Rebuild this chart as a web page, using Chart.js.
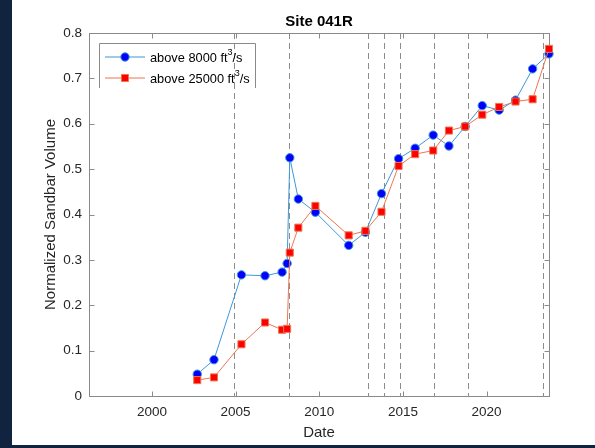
<!DOCTYPE html>
<html>
<head>
<meta charset="utf-8">
<script src="https://cdn.jsdelivr.net/npm/chart.js@4/dist/chart.umd.min.js"></script>
<style>
  html, body { margin: 0; padding: 0; background: #10233f; }
  #wrap { position: relative; width: 595px; height: 448px; }
  #paper { position: absolute; left: 12px; top: 0; width: 583px; height: 445px; background: #fff; }
  #chart { position: absolute; left: 0; top: 0; }
</style>
</head>
<body>
<div id="wrap">
  <div id="paper"></div>
  <canvas id="chart" width="595" height="448"></canvas>
</div>
<script>
// 調查日期（小數年）
const surveyDates = [2002.71, 2003.71, 2005.35, 2006.76, 2007.78, 2008.08, 2008.24, 2008.75,
    2009.77, 2011.76, 2012.76, 2013.72, 2014.74, 2015.73, 2016.81, 2017.75,
    2018.72, 2019.74, 2020.75, 2021.73, 2022.75, 2023.73];

// 正規化沙洲體積
const above8000 = [0.048, 0.080, 0.267, 0.265, 0.273, 0.292, 0.525, 0.434,
    0.405, 0.332, 0.361, 0.446, 0.523, 0.546, 0.575, 0.551,
    0.594, 0.640, 0.630, 0.652, 0.721, 0.754];
const above25000 = [0.035, 0.041, 0.114, 0.162, 0.146, 0.148, 0.316, 0.371,
    0.419, 0.354, 0.364, 0.406, 0.507, 0.533, 0.541, 0.585,
    0.594, 0.620, 0.637, 0.649, 0.654, 0.765];

// 高流量放水日期（虛線）
const floodDates = [2004.92, 2008.19, 2012.90, 2013.88, 2014.85, 2016.85, 2018.87, 2023.38];

// 座標軸刻度
const xTicks = [2000, 2005, 2010, 2015, 2020];
const yTicks = [0, 0.1, 0.2, 0.3, 0.4, 0.5, 0.6, 0.7, 0.8];
const xRange = [1996.24, 2023.73];

const FONT = "'Liberation Sans', Arial, Helvetica, sans-serif";
const TEXT = '#262626';
const AXIS = '#8a8a8a';

function toPoints(values) {
    return surveyDates.map((d, i) => ({ x: d, y: values[i] }));
}

// 虛線、框線與內側刻度（畫在資料下方），標題與圖例（畫在最上層）
const axesDecor = {
    id: 'axesDecor',
    beforeDatasetsDraw(chart) {
        const { ctx, chartArea: a, scales: { x, y } } = chart;
        ctx.save();
        ctx.strokeStyle = '#8c8c8c';
        ctx.lineWidth = 1;
        ctx.setLineDash([6, 4]);
        floodDates.forEach(d => {
            const px = Math.round(x.getPixelForValue(d)) + 0.5;
            ctx.beginPath();
            ctx.moveTo(px, a.top);
            ctx.lineTo(px, a.bottom);
            ctx.stroke();
        });
        ctx.setLineDash([]);

        const L = a.left + 0.5, R = a.right + 0.5, T = a.top + 0.5, B = a.bottom + 0.5;
        ctx.strokeStyle = AXIS;
        ctx.strokeRect(L, T, R - L, B - T);

        const tick = 5;
        ctx.beginPath();
        xTicks.forEach(v => {
            const px = Math.round(x.getPixelForValue(v)) + 0.5;
            ctx.moveTo(px, B); ctx.lineTo(px, B - tick);
            ctx.moveTo(px, T); ctx.lineTo(px, T + tick);
        });
        yTicks.forEach(v => {
            const py = Math.round(y.getPixelForValue(v)) + 0.5;
            ctx.moveTo(L, py); ctx.lineTo(L + tick, py);
            ctx.moveTo(R, py); ctx.lineTo(R - tick, py);
        });
        ctx.stroke();
        ctx.restore();
    },
    afterDraw(chart) {
        const { ctx, chartArea: a } = chart;
        ctx.save();

        // 標題與座標軸名稱
        const cx = (a.left + a.right) / 2;
        ctx.fillStyle = '#000';
        ctx.textAlign = 'center';
        ctx.textBaseline = 'middle';
        ctx.font = 'bold 15px ' + FONT;
        ctx.fillText('Site 041R', cx, 21.5);

        ctx.fillStyle = TEXT;
        ctx.font = '15px ' + FONT;
        ctx.fillText('Date', cx, 432.5);

        ctx.save();
        ctx.translate(51, (a.top + a.bottom) / 2);
        ctx.rotate(-Math.PI / 2);
        ctx.fillText('Normalized Sandbar Volume', 0, 0);
        ctx.restore();

        // 圖例
        const box = { l: 99.5, t: 43.5, r: 255.5, b: 88 };
        ctx.strokeStyle = AXIS;
        ctx.lineWidth = 1;
        ctx.beginPath();
        ctx.moveTo(box.l, box.b);
        ctx.lineTo(box.l, box.t);
        ctx.lineTo(box.r, box.t);
        ctx.lineTo(box.r, box.b);
        ctx.stroke();

        const rows = [57, 78];
        chart.data.datasets.forEach((ds, i) => {
            const ry = rows[i];
            ctx.strokeStyle = ds.borderColor;
            ctx.lineWidth = 1;
            ctx.beginPath();
            ctx.moveTo(105, ry);
            ctx.lineTo(145, ry);
            ctx.stroke();

            ctx.fillStyle = ds.pointBackgroundColor;
            ctx.strokeStyle = ds.pointBorderColor;
            ctx.beginPath();
            if (ds.pointStyle === 'rect') {
                const s = Math.SQRT1_2 * ds.pointRadius;
                ctx.rect(125 - s, ry - s, 2 * s, 2 * s);
            } else {
                ctx.arc(125, ry, ds.pointRadius, 0, Math.PI * 2);
            }
            ctx.fill();
            ctx.stroke();

            ctx.fillStyle = '#000';
            ctx.textAlign = 'left';
            ctx.textBaseline = 'middle';
            ctx.font = '12.8px ' + FONT;
            const main = ds.legendText;
            ctx.fillText(main, 150, ry + 1);
            let tx = 150 + ctx.measureText(main).width;
            ctx.font = '9px ' + FONT;
            ctx.fillText('3', tx, ry - 4);
            tx += ctx.measureText('3').width;
            ctx.font = '12.8px ' + FONT;
            ctx.fillText('/s', tx, ry + 1);
        });
        ctx.restore();
    }
};

const ctx = document.getElementById('chart').getContext('2d');
const chart = new Chart(ctx, {
    type: 'line',
    data: {
        datasets: [
            {
                label: 'above 8000 ft³/s',
                legendText: 'above 8000 ft',
                data: toPoints(above8000),
                borderColor: '#3f97d6',
                borderWidth: 1,
                pointStyle: 'circle',
                pointRadius: 4.2,
                pointBorderWidth: 1,
                pointBackgroundColor: '#0000ff',
                pointBorderColor: '#3f97d6',
                tension: 0,
                clip: false,
                order: 1
            },
            {
                label: 'above 25000 ft³/s',
                legendText: 'above 25000 ft',
                data: toPoints(above25000),
                borderColor: '#ec7650',
                borderWidth: 1,
                pointStyle: 'rect',
                pointRadius: 5,
                pointBorderWidth: 1,
                pointBackgroundColor: '#ff0000',
                pointBorderColor: '#ec7650',
                tension: 0,
                clip: false,
                order: 0
            }
        ]
    },
    options: {
        responsive: false,
        animation: false,
        devicePixelRatio: 1,
        layout: { padding: { left: 0, right: 46, top: 33, bottom: 0 } },
        plugins: {
            legend: { display: false },
            title: { display: false },
            tooltip: { enabled: false }
        },
        scales: {
            x: {
                type: 'linear',
                min: xRange[0],
                max: xRange[1],
                afterBuildTicks: s => { s.ticks = xTicks.map(v => ({ value: v })); },
                afterFit: s => { s.height = 52; },
                grid: { display: false, drawTicks: false },
                border: { display: false },
                ticks: {
                    padding: 8,
                    autoSkip: false,
                    maxRotation: 0,
                    color: TEXT,
                    font: { family: FONT, size: 13.5 },
                    callback: v => String(v)
                }
            },
            y: {
                min: 0,
                max: 0.8,
                afterBuildTicks: s => { s.ticks = yTicks.map(v => ({ value: v })); },
                afterFit: s => { s.width = 89; },
                grid: { display: false, drawTicks: false },
                border: { display: false },
                ticks: {
                    padding: 7,
                    autoSkip: false,
                    color: TEXT,
                    font: { family: FONT, size: 13.5 },
                    callback: v => String(v)
                }
            }
        }
    },
    plugins: [axesDecor]
});
</script>
</body>
</html>
